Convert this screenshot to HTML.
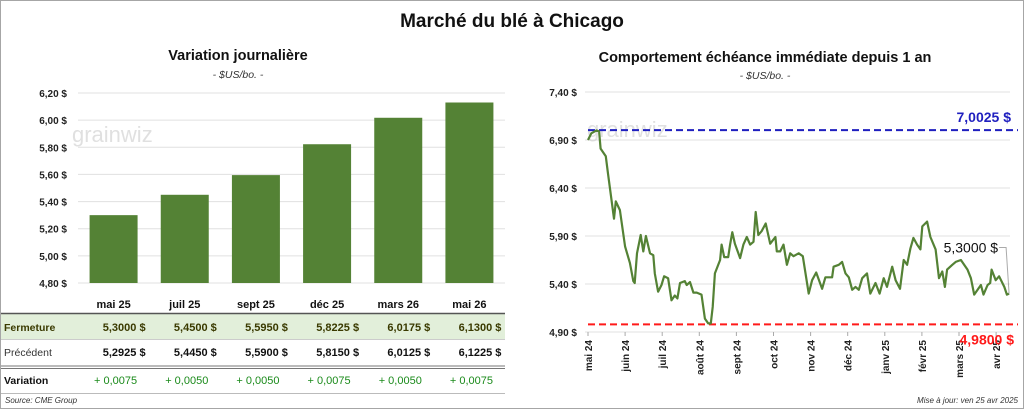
<!DOCTYPE html>
<html><head><meta charset="utf-8"><style>
body{margin:0;background:#fff;font-family:"Liberation Sans",sans-serif}
svg text{font-family:"Liberation Sans",sans-serif}
</style></head><body>
<svg id="s" width="1024" height="409" xmlns="http://www.w3.org/2000/svg">
<rect x="0.5" y="0.5" width="1023" height="408" fill="#fff" stroke="#a6a6a6"/>
<text x="512" y="27" text-anchor="middle" font-size="19" font-weight="bold" fill="#111">Marché du blé à Chicago</text>
<text x="238" y="60" text-anchor="middle" font-size="14.5" font-weight="bold" fill="#111">Variation  journalière</text>
<text x="238" y="78" text-anchor="middle" font-size="10.5" font-style="italic" fill="#333">- $US/bo. -</text>
<text x="765" y="62" text-anchor="middle" font-size="14.5" font-weight="bold" fill="#111">Comportement  échéance immédiate depuis 1 an</text>
<text x="765" y="79" text-anchor="middle" font-size="10.5" font-style="italic" fill="#333">- $US/bo. -</text>
<g id="left"></g>
<g id="right"></g>
<g id="tbl"></g>
<text x="5" y="403" font-size="8" font-style="italic" fill="#333">Source: CME Group</text>
<text x="1018" y="403" text-anchor="end" font-size="8" font-style="italic" fill="#333">Mise à jour: ven 25 avr 2025</text>
</svg>
<script>
const categories=["mai 25","juil 25","sept 25","déc 25","mars 26","mai 26"];
const closeVals=[5.3000,5.4500,5.5950,5.8225,6.0175,6.1300];
const prevVals=[5.2925,5.4450,5.5900,5.8150,6.0125,6.1225];
const barTicks=[4.80,5.00,5.20,5.40,5.60,5.80,6.00,6.20];
const lineTicks=[4.90,5.40,5.90,6.40,6.90,7.40];
const monthLabels=["mai 24","juin 24","juil 24","août 24","sept 24","oct 24","nov 24","déc 24","janv 25","févr 25","mars 25","avr 25"];
const seriesT=[0,0.09,0.23,0.3,0.34,0.48,0.54,0.70,0.75,0.86,1.0,1.13,1.22,1.26,1.32,1.42,1.49,1.56,1.67,1.76,1.80,1.89,1.98,2.05,2.16,2.25,2.34,2.41,2.48,2.61,2.66,2.75,2.84,2.93,3.06,3.15,3.24,3.31,3.36,3.42,3.56,3.60,3.67,3.78,3.83,3.89,3.96,4.10,4.19,4.28,4.37,4.46,4.52,4.59,4.68,4.79,4.91,5.05,5.09,5.18,5.27,5.36,5.45,5.54,5.68,5.79,5.95,6.04,6.15,6.31,6.40,6.58,6.62,6.76,6.85,6.94,7.03,7.12,7.21,7.30,7.39,7.52,7.61,7.75,7.86,7.97,8.06,8.20,8.29,8.41,8.51,8.60,8.69,8.77,8.87,8.96,9.01,9.14,9.23,9.37,9.46,9.55,9.62,9.68,9.82,9.91,10.05,10.23,10.32,10.41,10.59,10.66,10.77,10.84,10.88,10.99,11.08,11.22,11.29,11.35];
const seriesV=[6.90,6.97,7.00,6.99,6.81,6.73,6.55,6.08,6.26,6.17,5.79,5.62,5.43,5.41,5.72,5.91,5.74,5.90,5.72,5.70,5.51,5.32,5.39,5.48,5.46,5.23,5.28,5.25,5.41,5.43,5.39,5.42,5.31,5.31,5.29,5.04,4.99,4.99,5.16,5.51,5.65,5.81,5.68,5.68,5.81,5.94,5.82,5.67,5.81,5.89,5.81,5.84,6.15,5.91,5.95,6.03,5.82,5.89,5.74,5.74,5.81,5.60,5.72,5.69,5.72,5.69,5.30,5.44,5.52,5.35,5.47,5.47,5.58,5.60,5.63,5.51,5.47,5.34,5.37,5.34,5.46,5.51,5.30,5.41,5.30,5.46,5.37,5.58,5.44,5.35,5.65,5.60,5.77,5.88,5.81,5.76,6.00,6.05,5.89,5.76,5.46,5.53,5.37,5.55,5.60,5.63,5.65,5.55,5.46,5.29,5.39,5.29,5.39,5.41,5.55,5.44,5.48,5.37,5.29,5.30];
const highVal=7.0025, lowVal=4.9800, lastVal=5.3000;

const NS="http://www.w3.org/2000/svg";
function mk(p,tag,a,txt){const e=document.createElementNS(NS,tag);for(const k in a)e.setAttribute(k,a[k]);if(txt!=null)e.textContent=txt;p.appendChild(e);return e;}
const fmt=(v,d)=>v.toFixed(d).replace('.',',');

// bar chart
const L=document.getElementById('left');
const bx0=78,bx1=505,by=v=>283-(v-4.80)/1.40*190;
const cw=(bx1-bx0)/categories.length;
barTicks.forEach(t=>{
  const g=mk(L,'line',{x1:bx0,x2:bx1,y1:by(t),y2:by(t),stroke:'#e0e0e0','stroke-width':1});
  
  
  const l=mk(L,'text',{x:67,y:by(t)+4,'text-anchor':'end','font-size':10,'font-weight':'bold',fill:'#222'},fmt(t,2)+' $');
  
  
});
const wm1=mk(L,'text',{x:72,y:142,'font-size':22,fill:'#ccc','fill-opacity':0.6},'grainwiz');


closeVals.forEach((v,i)=>{
  const cx=bx0+cw*(i+0.5);
  const r=mk(L,'rect',{x:cx-24,y:by(v),width:48,height:by(4.80)-by(v),fill:'#548235'});
  
  
});

// table
const T=document.getElementById('tbl');
mk(T,'rect',{x:1,y:314,width:504,height:25,fill:'#e2efda'});
mk(T,'line',{x1:1,x2:505,y1:313.5,y2:313.5,stroke:'#555','stroke-width':1.5});
mk(T,'line',{x1:1,x2:505,y1:339.5,y2:339.5,stroke:'#ccc','stroke-width':1});
mk(T,'line',{x1:1,x2:505,y1:366,y2:366,stroke:'#777','stroke-width':1});
mk(T,'line',{x1:1,x2:505,y1:368.5,y2:368.5,stroke:'#777','stroke-width':1});
mk(T,'line',{x1:1,x2:505,y1:393.5,y2:393.5,stroke:'#bbb','stroke-width':1});
const rl=[['Fermeture',331,'bold','#3a3a00'],['Précédent',356,'normal','#333'],['Variation',384,'bold','#111']];
rl.forEach(r=>{const e=mk(T,'text',{x:4,y:r[1],'font-size':10.5,'font-weight':r[2],fill:r[3]},r[0]);
  
  });
categories.forEach((c,i)=>{
  const cx=bx0+cw*(i+0.5);
  const h=mk(T,'text',{x:cx,y:308,'text-anchor':'middle','font-size':11,'font-weight':'bold',fill:'#111'},c);
  
  
  const a=mk(T,'text',{x:cx+32,y:331,'text-anchor':'end','font-size':11,'font-weight':'bold',fill:'#3a3a00','xml:space':'preserve'},fmt(closeVals[i],4)+'  $');
  
  
  const b=mk(T,'text',{x:cx+32,y:356,'text-anchor':'end','font-size':11,'font-weight':'bold',fill:'#111','xml:space':'preserve'},fmt(prevVals[i],4)+'  $');
  
  
  const d=closeVals[i]-prevVals[i];
  const v=mk(T,'text',{x:cx+2,y:384,'text-anchor':'middle','font-size':11,fill:'#1a8a1a'},(d>=0?'+ ':'- ')+fmt(Math.abs(d),4));
  
  
});

// line chart
const R=document.getElementById('right');
const lx0=588,mw=37.1,lx=t=>lx0+t*mw,ly=v=>332-(v-4.90)/0.5*48,lxr=1010;
lineTicks.forEach(t=>{
  const g=mk(R,'line',{x1:lx0-3,x2:lxr,y1:ly(t),y2:ly(t),stroke:'#e0e0e0','stroke-width':1});
  
  
  const l=mk(R,'text',{x:577,y:ly(t)+4,'text-anchor':'end','font-size':10,'font-weight':'bold',fill:'#222'},fmt(t,2)+' $');
  
  
});
const wm2=mk(R,'text',{x:587,y:137,'font-size':22,fill:'#ccc','fill-opacity':0.6},'grainwiz');


monthLabels.forEach((m,i)=>{
  const x=lx(i);
  const t=mk(R,'line',{x1:x,x2:x,y1:332,y2:336,stroke:'#aaa'});
  
  
  const l=mk(R,'text',{x:x+4,y:340,'text-anchor':'end','font-size':10,'font-weight':'bold',fill:'#222',transform:`rotate(-90 ${x+4} 340)`},m);
  
  
});
const hl=mk(R,'line',{x1:lx0,x2:lxr+8,y1:ly(highVal),y2:ly(highVal),stroke:'#1f1fbf','stroke-width':2,'stroke-dasharray':'7,4'});


const lo=mk(R,'line',{x1:lx0,x2:lxr+8,y1:ly(lowVal),y2:ly(lowVal),stroke:'#ff1a1a','stroke-width':2,'stroke-dasharray':'7,4'});


const ht=mk(R,'text',{x:1011,y:ly(highVal)-8,'text-anchor':'end','font-size':14,'font-weight':'bold',fill:'#1f1fbf','xml:space':'preserve'},fmt(highVal,4)+'  $');


const lt=mk(R,'text',{x:1014,y:ly(lowVal)+20,'text-anchor':'end','font-size':14,'font-weight':'bold',fill:'#ff1a1a','xml:space':'preserve'},fmt(lowVal,4)+'  $');


const pts=seriesT.map((t,i)=>lx(t).toFixed(1)+','+ly(seriesV[i]).toFixed(1)).join(' ');
const pl=mk(R,'polyline',{points:pts,fill:'none',stroke:'#548235','stroke-width':2.2,'stroke-linejoin':'round'});


const lastX=lx(seriesT[seriesT.length-1]),lastY=ly(lastVal);
const ll=mk(R,'polyline',{points:`${lastX},${lastY} ${lastX-3},${ly(5.78)} ${lastX-10},${ly(5.78)}`,fill:'none',stroke:'#aaa','stroke-width':1});


const lv=mk(R,'text',{x:lastX-11,y:ly(5.78)+5,'text-anchor':'end','font-size':14,fill:'#111'},fmt(lastVal,4)+' $');


</script>
</body></html>
